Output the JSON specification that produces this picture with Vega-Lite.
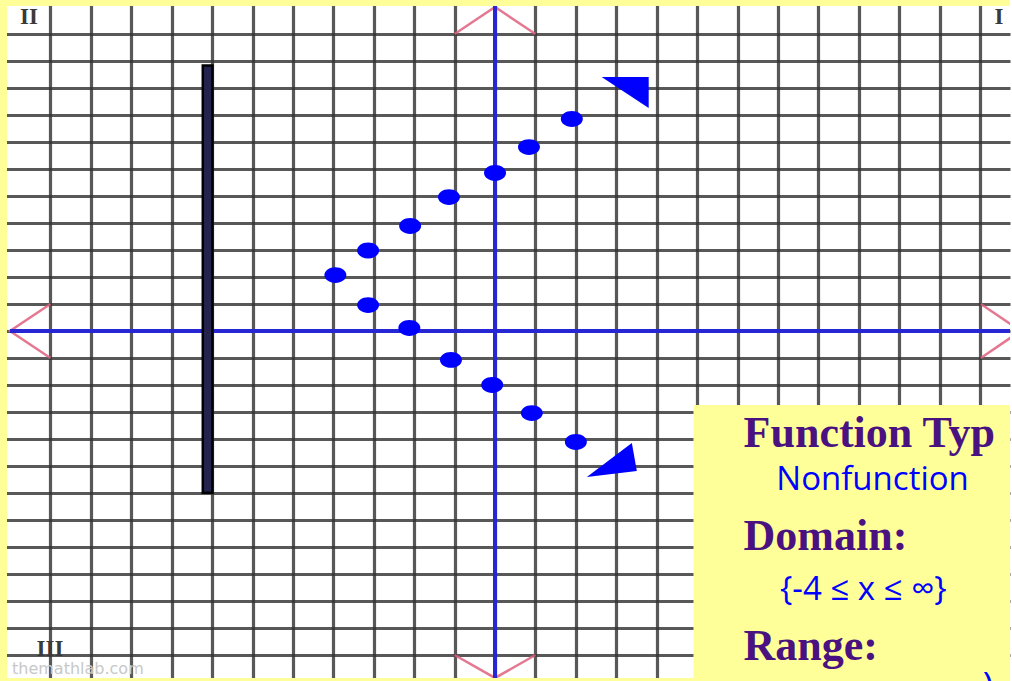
{
  "$schema": "https://vega.github.io/schema/vega-lite/v6.json",
  "width": 1012,
  "height": 681,
  "autosize": {"type": "fit", "contains": "padding"},
  "padding": 0,
  "background": "white",
  "config": {"view": {"stroke": null}},
  "datasets": {
    "axes": [
      {"x": -12, "x2": 12.741, "y": 0, "y2": 0},
      {"x": 0, "x2": 0, "y": 12.04, "y2": -12.85}
    ],
    "bar": [{"x": -7.23, "x2": -6.99, "y": 9.83, "y2": -5.99}],
    "points": [
      {"x": -3.95, "y": 2.07},
      {"x": -3.14, "y": 2.98},
      {"x": -2.1, "y": 3.89},
      {"x": -1.14, "y": 4.96},
      {"x": 0.0, "y": 5.85},
      {"x": 0.84, "y": 6.81},
      {"x": 1.9, "y": 7.85},
      {"x": -3.14, "y": 0.96},
      {"x": -2.12, "y": 0.11},
      {"x": -1.09, "y": -1.07},
      {"x": -0.07, "y": -2.0},
      {"x": 0.91, "y": -3.04},
      {"x": 2.0, "y": -4.11}
    ],
    "upperArrow": [{"x": 3.22, "y": 8.83}],
    "lowerArrow": [{"x": 2.89, "y": -4.78}],
    "chevrons": [
      {"arm": "top", "i": 0, "x": -1, "y": 11},
      {"arm": "top", "i": 1, "x": 0, "y": 12.0},
      {"arm": "top", "i": 2, "x": 1, "y": 11},
      {"arm": "left", "i": 0, "x": -11, "y": 1},
      {"arm": "left", "i": 1, "x": -12, "y": 0},
      {"arm": "left", "i": 2, "x": -11, "y": -1},
      {"arm": "bottom", "i": 0, "x": -1, "y": -12},
      {"arm": "bottom", "i": 1, "x": 0, "y": -12.85},
      {"arm": "bottom", "i": 2, "x": 1, "y": -12},
      {"arm": "right", "i": 0, "x": 12.02, "y": 1},
      {"arm": "right", "i": 1, "x": 13, "y": 0},
      {"arm": "right", "i": 2, "x": 12.02, "y": -1}
    ],
    "paper": [
      {"x": -12.247, "x2": -12.074, "y": 12.259, "y2": -12.963},
      {"x": -12.247, "x2": 12.741, "y": 12.259, "y2": 12.037},
      {"x": -12.247, "x2": 12.741, "y": -12.852, "y2": -12.963},
      {"x": 4.91, "x2": 12.741, "y": -2.74, "y2": -12.963}
    ],
    "headings": [
      {"x": 6.15, "y": -4.3, "label": "Function Typ"},
      {"x": 6.15, "y": -8.11, "label": "Domain:"},
      {"x": 6.15, "y": -12.19, "label": "Range:"}
    ],
    "notes": [
      {"x": 6.96, "y": -5.89, "label": "Nonfunction"},
      {"x": 7.05, "y": -9.96, "label": "{-4 ≤ x ≤ ∞}"}
    ],
    "cutNote": [{"x": 12.2, "y": -12.56, "label": ")"}],
    "quadrants": [
      {"x": -11.53, "y": 11.63, "label": "II"},
      {"x": 12.47, "y": 11.63, "label": "I"},
      {"x": -11.01, "y": -11.78, "label": "III"}
    ],
    "credit": [{"x": -11.95, "y": -12.52, "label": "themathlab.com"}]
  },
  "encoding": {
    "x": {
      "field": "x",
      "type": "quantitative",
      "scale": {"domain": [-12.247, 12.741], "nice": false, "zero": false},
      "axis": {
        "values": [-11, -10, -9, -8, -7, -6, -5, -4, -3, -2, -1, 0, 1, 2, 3, 4, 5, 6, 7, 8, 9, 10, 11, 12],
        "grid": true,
        "gridColor": "#333333",
        "gridWidth": 3.2,
        "gridOpacity": 0.82,
        "labels": false,
        "ticks": false,
        "domain": false,
        "title": null
      }
    },
    "y": {
      "field": "y",
      "type": "quantitative",
      "scale": {"domain": [-12.963, 12.259], "nice": false, "zero": false},
      "axis": {
        "values": [-12, -11, -10, -9, -8, -7, -6, -5, -4, -3, -2, -1, 0, 1, 2, 3, 4, 5, 6, 7, 8, 9, 10, 11],
        "grid": true,
        "gridColor": "#333333",
        "gridWidth": 3.2,
        "gridOpacity": 0.82,
        "labels": false,
        "ticks": false,
        "domain": false,
        "title": null
      }
    }
  },
  "layer": [
    {
      "data": {"name": "chevrons"},
      "mark": {"type": "line", "color": "#e0607e", "strokeWidth": 2.5, "opacity": 0.85, "clip": true},
      "encoding": {
        "detail": {"field": "arm", "type": "nominal"},
        "order": {"field": "i", "type": "quantitative"}
      }
    },
    {
      "data": {"name": "axes"},
      "mark": {"type": "rule", "color": "#2626d4", "strokeWidth": 4},
      "encoding": {
        "x2": {"field": "x2"},
        "y2": {"field": "y2"}
      }
    },
    {
      "data": {"name": "bar"},
      "mark": {"type": "rect", "fill": "#23234e", "stroke": "#000000", "strokeWidth": 2.5},
      "encoding": {
        "x2": {"field": "x2"},
        "y2": {"field": "y2"}
      }
    },
    {
      "data": {"name": "points"},
      "mark": {
        "type": "point",
        "filled": true,
        "opacity": 1,
        "color": "#0000ff",
        "size": 484,
        "shape": "M-1,0A1,0.72 0 1,1 1,0A1,0.72 0 1,1 -1,0Z"
      }
    },
    {
      "data": {"name": "upperArrow"},
      "mark": {
        "type": "point",
        "filled": true,
        "opacity": 1,
        "color": "#0000ff",
        "size": 2209,
        "shape": "M-1,-0.66L1,-0.66L1,0.66Z"
      }
    },
    {
      "data": {"name": "lowerArrow"},
      "mark": {
        "type": "point",
        "filled": true,
        "opacity": 1,
        "color": "#0000ff",
        "size": 2500,
        "shape": "M-1,0.68L0.8,-0.68L1,0.44Z"
      }
    },
    {
      "data": {"name": "paper"},
      "mark": {"type": "rect", "fill": "#ffff99"},
      "encoding": {
        "x2": {"field": "x2"},
        "y2": {"field": "y2"}
      }
    },
    {
      "data": {"name": "headings"},
      "mark": {
        "type": "text",
        "align": "left",
        "baseline": "alphabetic",
        "font": "Liberation Serif",
        "fontWeight": "bold",
        "fontSize": 44,
        "color": "#4a1280",
        "clip": true
      },
      "encoding": {"text": {"field": "label"}}
    },
    {
      "data": {"name": "notes"},
      "mark": {
        "type": "text",
        "align": "left",
        "baseline": "alphabetic",
        "font": "Open Sans",
        "fontSize": 33,
        "color": "#0000ff"
      },
      "encoding": {"text": {"field": "label"}}
    },
    {
      "data": {"name": "cutNote"},
      "mark": {
        "type": "text",
        "align": "center",
        "baseline": "top",
        "font": "Open Sans",
        "fontSize": 36,
        "color": "#0000ff",
        "clip": true
      },
      "encoding": {"text": {"field": "label"}}
    },
    {
      "data": {"name": "quadrants"},
      "mark": {
        "type": "text",
        "align": "center",
        "baseline": "middle",
        "font": "Liberation Serif",
        "fontWeight": "bold",
        "fontSize": 23,
        "color": "#3a3a3a",
        "clip": true
      },
      "encoding": {"text": {"field": "label"}}
    },
    {
      "data": {"name": "credit"},
      "mark": {
        "type": "text",
        "align": "left",
        "baseline": "middle",
        "font": "DejaVu Sans",
        "fontSize": 16,
        "color": "#c8c8c8",
        "clip": true
      },
      "encoding": {"text": {"field": "label"}}
    }
  ]
}
